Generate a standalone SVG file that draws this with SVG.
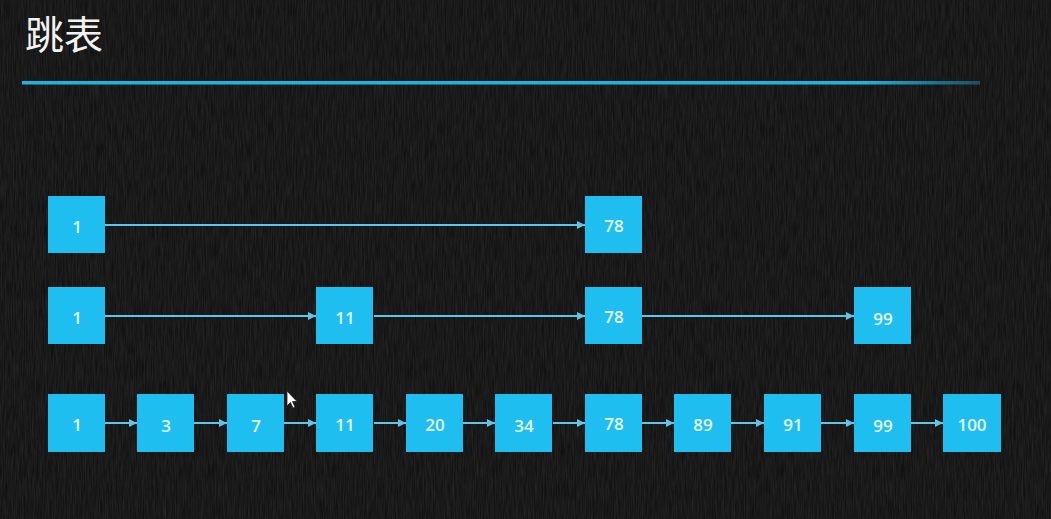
<svg xmlns="http://www.w3.org/2000/svg" width="1051" height="519" viewBox="0 0 1051 519">
<defs>
<style>
.box{fill:#1ebff0}
.lbl{font-family:"Open Sans","Lato",sans-serif;font-size:17px;font-weight:600;fill:#e6f7ff;text-anchor:middle;dominant-baseline:central}
.edge{stroke:#5cc6e6;stroke-width:2;fill:none;marker-end:url(#ah)}
</style>
<marker id="ah" viewBox="0 0 10 10" refX="10" refY="5" markerWidth="4" markerHeight="4" orient="auto" markerUnits="strokeWidth">
<path d="M0,0 L10,5 L0,10 z" fill="#5cc6e6"/>
</marker>
<filter id="chalk" x="0" y="0" width="100%" height="100%">
<feTurbulence type="fractalNoise" baseFrequency="0.9 0.05" numOctaves="3" seed="4" result="n"/>
<feColorMatrix in="n" type="matrix" values="0 0 0 0 1  0 0 0 0 1  0 0 0 0 1  0 0 0 0.12 -0.03"/>
</filter>
<linearGradient id="lineg" x1="0" y1="0" x2="1" y2="0">
<stop offset="0" stop-color="#1fb2e2"/>
<stop offset="0.88" stop-color="#1fb2e2"/>
<stop offset="1" stop-color="#1fb2e2" stop-opacity="0.35"/>
</linearGradient>
</defs>
<rect width="1051" height="519" fill="#121212"/>
<rect width="1051" height="519" filter="url(#chalk)"/>
<text x="25" y="49" font-family="'Noto Sans CJK SC',sans-serif" font-size="39" fill="#f2f2f2">跳表</text>
<rect x="22" y="81" width="958" height="3.5" fill="url(#lineg)"/>

<g id="connectors">
<line class="edge" x1="105" y1="225" x2="585" y2="225"/>
<line class="edge" x1="105" y1="316" x2="316" y2="316"/>
<line class="edge" x1="374" y1="316" x2="585" y2="316"/>
<line class="edge" x1="642" y1="316" x2="854" y2="316"/>
<line class="edge" x1="105" y1="423" x2="137" y2="423"/>
<line class="edge" x1="194" y1="423" x2="227" y2="423"/>
<line class="edge" x1="284" y1="423" x2="316" y2="423"/>
<line class="edge" x1="374" y1="423" x2="406" y2="423"/>
<line class="edge" x1="463" y1="423" x2="495" y2="423"/>
<line class="edge" x1="553" y1="423" x2="585" y2="423"/>
<line class="edge" x1="642" y1="423" x2="674" y2="423"/>
<line class="edge" x1="731" y1="423" x2="764" y2="423"/>
<line class="edge" x1="821" y1="423" x2="854" y2="423"/>
<line class="edge" x1="911" y1="423" x2="943" y2="423"/>
</g>

<g id="n3-1"><rect class="box" x="48" y="196" width="57" height="57"/><text class="lbl" x="77" y="226">1</text></g>
<g id="n3-78"><rect class="box" x="585" y="196" width="57" height="57"/><text class="lbl" x="614" y="225">78</text></g>

<g id="n2-1"><rect class="box" x="48" y="287" width="57" height="57"/><text class="lbl" x="77" y="317">1</text></g>
<g id="n2-11"><rect class="box" x="316" y="287" width="57" height="57"/><text class="lbl" x="345" y="317">11</text></g>
<g id="n2-78"><rect class="box" x="585" y="287" width="57" height="57"/><text class="lbl" x="614" y="316">78</text></g>
<g id="n2-99"><rect class="box" x="854" y="287" width="57" height="57"/><text class="lbl" x="883" y="318">99</text></g>

<g id="n1-1"><rect class="box" x="48" y="394" width="57" height="58"/><text class="lbl" x="77" y="424">1</text></g>
<g id="n1-3"><rect class="box" x="137" y="394" width="57" height="58"/><text class="lbl" x="166" y="425">3</text></g>
<g id="n1-7"><rect class="box" x="227" y="394" width="57" height="58"/><text class="lbl" x="256" y="425">7</text></g>
<g id="n1-11"><rect class="box" x="316" y="394" width="57" height="58"/><text class="lbl" x="345" y="424">11</text></g>
<g id="n1-20"><rect class="box" x="406" y="394" width="57" height="58"/><text class="lbl" x="435" y="424">20</text></g>
<g id="n1-34"><rect class="box" x="495" y="394" width="57" height="58"/><text class="lbl" x="524" y="425">34</text></g>
<g id="n1-78"><rect class="box" x="585" y="394" width="57" height="58"/><text class="lbl" x="614" y="423">78</text></g>
<g id="n1-89"><rect class="box" x="674" y="394" width="57" height="58"/><text class="lbl" x="703" y="424">89</text></g>
<g id="n1-91"><rect class="box" x="764" y="394" width="57" height="58"/><text class="lbl" x="793" y="424">91</text></g>
<g id="n1-99"><rect class="box" x="854" y="394" width="57" height="58"/><text class="lbl" x="883" y="425">99</text></g>
<g id="n1-100"><rect class="box" x="943" y="394" width="58" height="58"/><text class="lbl" x="972" y="424">100</text></g>

<path d="M287,391 L287,406 L290.5,402.5 L293,408 L295,407 L292.5,401.5 L297,401.5 Z" fill="#ffffff" stroke="#222" stroke-width="0.8"/>
</svg>
